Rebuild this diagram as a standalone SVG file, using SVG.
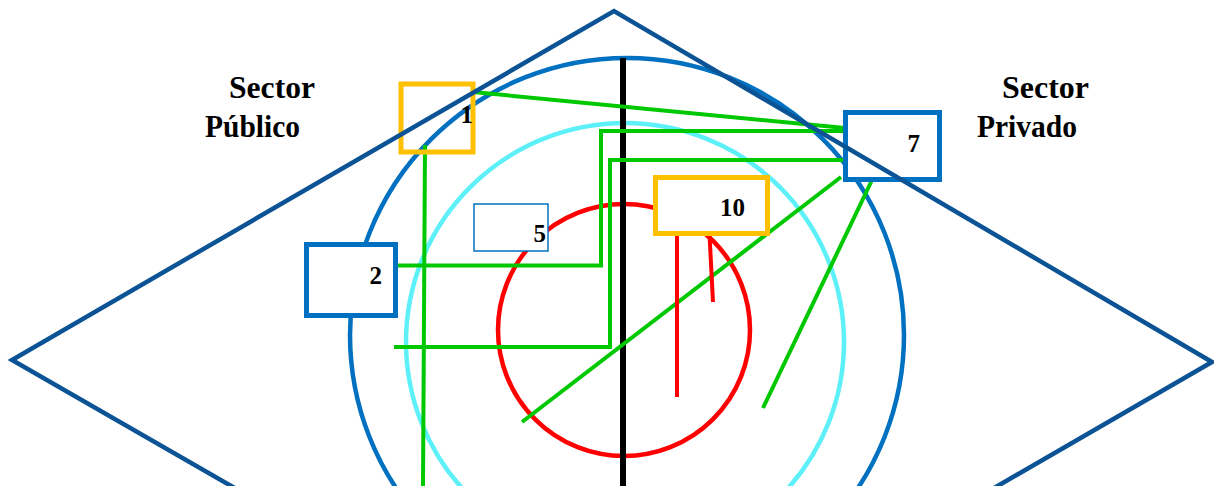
<svg xmlns="http://www.w3.org/2000/svg" width="1214" height="486" viewBox="0 0 1214 486">
<style>
.lbl{font-family:"Liberation Serif","Times New Roman",Times,serif;font-weight:bold;font-size:31px;fill:#000}
.num{font-family:"Liberation Serif","Times New Roman",Times,serif;font-weight:bold;font-size:25px;fill:#000;text-anchor:end}
.g{stroke:#00C800;stroke-width:4;fill:none}
.r{stroke:#FF0000;stroke-width:4;fill:none}
.bx{fill:#fff;stroke-width:5}
</style>
<rect width="1214" height="486" fill="#fff"/>
<g id="background">
<circle cx="627" cy="335" r="277" fill="none" stroke="#0070C0" stroke-width="4.5"/>
<circle cx="625" cy="342" r="219" fill="none" stroke="#5EF0F8" stroke-width="4.5"/>
<circle cx="624" cy="330" r="126" fill="none" stroke="#FF0000" stroke-width="4.5"/>
<line x1="623" y1="58" x2="623" y2="486" stroke="#000" stroke-width="6"/>
</g>
<g id="labels">
<text class="lbl" x="229" y="98" textLength="86" lengthAdjust="spacingAndGlyphs">Sector</text>
<text class="lbl" x="205" y="137" textLength="95" lengthAdjust="spacingAndGlyphs">Público</text>
<text class="lbl" x="1002" y="98" textLength="87" lengthAdjust="spacingAndGlyphs">Sector</text>
<text class="lbl" x="977" y="137" textLength="100" lengthAdjust="spacingAndGlyphs">Privado</text>
</g>
<g id="connectors">
<line class="g" x1="425" y1="145" x2="423" y2="486"/>
<line class="g" x1="473" y1="92" x2="845" y2="128"/>
<polyline class="g" points="395,265.5 601,265.5 601,131 845,131"/>
<polyline class="g" points="394,347 610,347 610,160 849,160"/>
<line class="g" x1="841" y1="177" x2="522" y2="422"/>
<line class="g" x1="873" y1="178" x2="763" y2="408"/>
<line class="r" x1="677" y1="229" x2="677" y2="397"/>
<line class="r" x1="709" y1="225" x2="713" y2="302"/>
</g>
<g id="node1">
<rect x="401" y="84" width="72" height="68" fill="none" stroke="#FFC000" stroke-width="5"/>
<text class="num" x="473" y="123">1</text>
</g>
<g id="node7">
<rect class="bx" x="845.5" y="112.5" width="94" height="67" stroke="#0070C0"/>
<text class="num" x="920" y="152">7</text>
</g>
<g id="node2">
<rect class="bx" x="306.5" y="244.5" width="89" height="71" stroke="#0070C0"/>
<text class="num" x="382" y="284">2</text>
</g>
<g id="node5">
<rect x="474" y="204" width="74" height="47" fill="#fff" stroke="#0070C0" stroke-width="1.5"/>
<text class="num" x="546" y="242">5</text>
</g>
<g id="node10">
<rect class="bx" x="655.5" y="177.5" width="112" height="56" stroke="#FFC000"/>
<text class="num" x="745" y="216">10</text>
</g>
<g id="diamond">
<polyline points="266,506 12,360 614,11 1212,362 963,506" fill="none" stroke="#0B5394" stroke-width="4.5" stroke-linejoin="miter"/>
</g>
</svg>
